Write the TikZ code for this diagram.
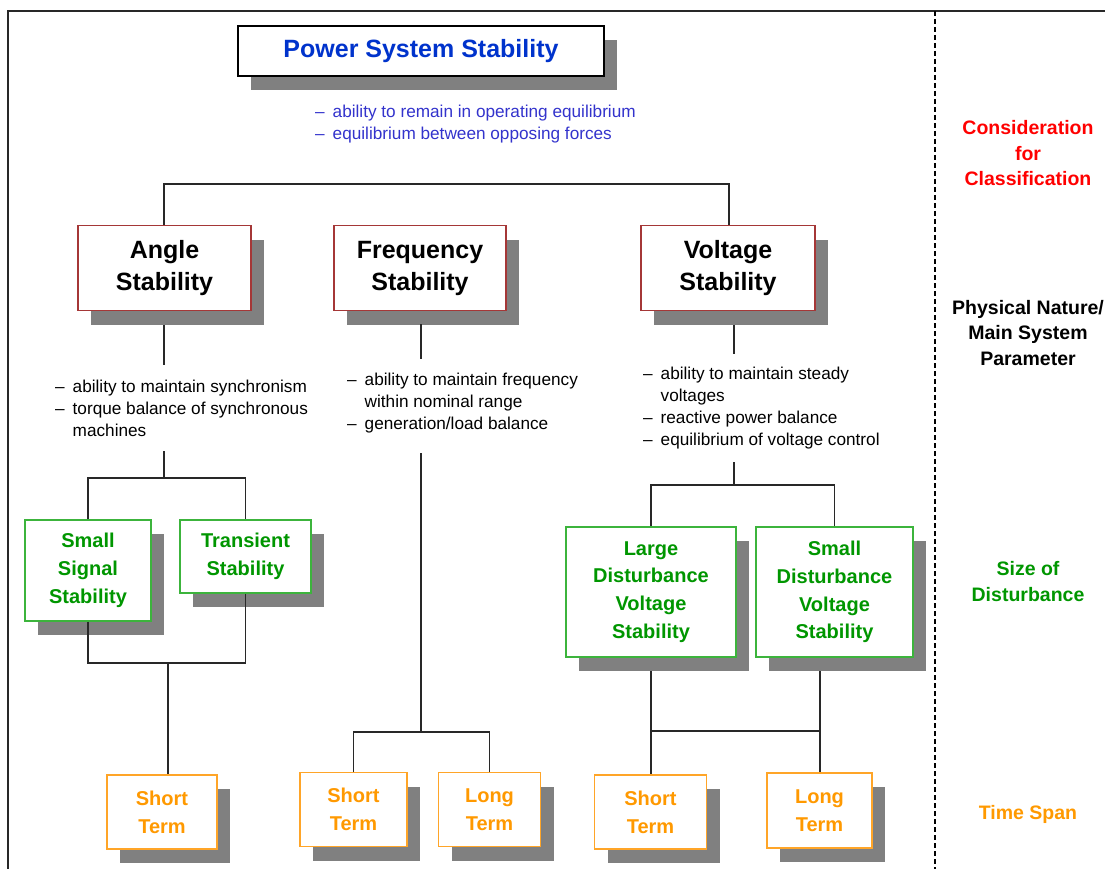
\documentclass[tikz,border=0pt]{standalone}
\usepackage{fontspec}
\setmainfont{Liberation Sans}
\usetikzlibrary{shadows}
\definecolor{ttblue}{RGB}{0,51,204}
\definecolor{bulblue}{RGB}{51,51,204}
\definecolor{boxred}{RGB}{165,55,55}
\definecolor{grntxt}{RGB}{0,150,0}
\definecolor{grnbox}{RGB}{60,180,60}
\definecolor{orgtxt}{RGB}{255,153,0}
\definecolor{orgbox}{RGB}{255,165,40}
\definecolor{shd}{RGB}{128,128,128}
\definecolor{lin}{RGB}{40,40,40}
\definecolor{redlbl}{RGB}{255,0,0}
\tikzset{
  shadowed/.style={drop shadow={shadow xshift=13pt,shadow yshift=-14pt,fill=shd,opacity=1}},
  basebox/.style={draw, fill=white, shadowed, align=center, inner sep=0pt, line width=1.2pt},
  titlebox/.style={basebox, draw=black, text=ttblue, font=\fontsize{25}{30}\selectfont\bfseries},
  redbox/.style={basebox, draw=boxred, text=black, font=\fontsize{25}{32}\selectfont\bfseries},
  greenbox/.style={basebox, draw=grnbox, text=grntxt, font=\fontsize{20}{27.7}\selectfont\bfseries},
  orangebox/.style={basebox, draw=orgbox, text=orgtxt, font=\fontsize{20}{28}\selectfont\bfseries},
  bullets/.style={anchor=west, align=left, inner sep=0pt, font=\fontsize{17.2}{22}\selectfont},
  sidelabel/.style={align=center, inner sep=0pt, font=\fontsize{19.5}{25.5}\selectfont\bfseries},
  conn/.style={draw=lin, line width=1.2pt},
}
\newcommand{\dsh}{\makebox[17.5pt][l]{--}}
\newcommand{\ind}{\hspace*{17.5pt}}
\begin{document}
\begin{tikzpicture}[x=1pt,y=-1pt]
\useasboundingbox (0,0) rectangle (1105,869);
% frame and dashed separator
\draw[line width=1.2pt, draw=lin] (8,869) -- (8,11) -- (1105,11);
\draw[line width=1.2pt, dash pattern=on 5pt off 3pt] (935,11) -- (935,869);

% title
\node[titlebox, minimum width=366pt, minimum height=50pt] (title) at (421,51) {Power System Stability};
\node[bullets, text=bulblue] (titletxt) at (315,124) {\dsh ability to remain in operating equilibrium\\\dsh equilibrium between opposing forces};

% level 1
\node[redbox, minimum width=173pt, minimum height=85pt] (ang) at (164.5,268) {Angle\\Stability};
\node[redbox, minimum width=172pt, minimum height=85pt] (freq) at (420,268) {Frequency\\Stability};
\node[redbox, minimum width=174pt, minimum height=85pt] (volt) at (728,268) {Voltage\\Stability};

\node[bullets] (angtxt) at (55,408) {\dsh ability to maintain synchronism\\\dsh torque balance of synchronous\\\ind machines};
\node[bullets] (freqtxt) at (347,403) {\dsh ability to maintain frequency\\\ind within nominal range\\\dsh generation/load balance};
\node[bullets] (volttxt) at (643,408) {\dsh ability to maintain steady\\\ind voltages\\\dsh reactive power balance\\\dsh equilibrium of voltage control};

% level 2
\node[greenbox, minimum width=126pt, minimum height=101pt] (ssig) at (88,570.5) {Small\\Signal\\Stability};
\node[greenbox, minimum width=131pt, minimum height=73pt] (trans) at (245.5,556.5) {Transient\\Stability};
\node[greenbox, minimum width=170pt, minimum height=130pt] (ldv) at (651,592) {Large\\Disturbance\\Voltage\\Stability};
\node[greenbox, minimum width=157pt, minimum height=130pt] (sdv) at (834.5,592) {Small\\Disturbance\\Voltage\\Stability};

% level 3
\node[orangebox, minimum width=110pt, minimum height=74pt] (ast) at (162,812) {Short\\Term};
\node[orangebox, minimum width=107pt, minimum height=74pt] (fst) at (353.5,809.5) {Short\\Term};
\node[orangebox, minimum width=102pt, minimum height=74pt] (flt) at (489.5,809.5) {Long\\Term};
\node[orangebox, minimum width=112pt, minimum height=74pt] (vst) at (650.5,812) {Short\\Term};
\node[orangebox, minimum width=105pt, minimum height=75pt] (vlt) at (819.5,810.5) {Long\\Term};

% side labels
\node[sidelabel, text=redlbl] (lc) at (1028,153.5) {Consideration\\for\\Classification};
\node[sidelabel, text=black] (lp) at (1028,333) {Physical Nature/\\Main System\\Parameter};
\node[sidelabel, text=grntxt] (ls) at (1028,581.5) {Size of\\Disturbance};
\node[sidelabel, text=orgtxt] (lt) at (1028,814) {Time Span};

% connectors
\coordinate (top) at (164,184);
\coordinate (topv) at (729,184);
\draw[conn] (ang.north -| top) -- (top) -- (topv) -- (volt.north -| topv);

\coordinate (a1) at (164,365);
\coordinate (a2) at (164,451);
\coordinate (aj) at (164,478);
\draw[conn] ([yshift=-14pt]ang.south -| a1) -- (a1);
\draw[conn] (a2) -- (aj);
\draw[conn] (ssig.north) |- (aj) -| (trans.north);
\coordinate (aj2) at (168,663);
\draw[conn] (ssig.south) |- (aj2) -| (trans.south);
\draw[conn] (aj2) -- (aj2 |- ast.north);

\coordinate (f0) at (421,324);
\coordinate (f1) at (421,359);
\coordinate (f2) at (421,453);
\coordinate (fj) at (421,732);
\draw[conn] (f0) -- (f1);
\draw[conn] (f2) -- (fj);
\draw[conn] (fst.north) |- (fj) -| (flt.north);

\coordinate (v0) at (734,325);
\coordinate (v1) at (734,354);
\coordinate (v2) at (734,462);
\coordinate (vj) at (734,485);
\draw[conn] (v0) -- (v1);
\draw[conn] (v2) -- (vj);
\draw[conn] (ldv.north) |- (vj) -| (sdv.north);
\coordinate (vb1) at (651,671);
\coordinate (vb2) at (820,671);
\coordinate (vh1) at (651,731);
\coordinate (vh2) at (820,731);
\draw[conn] (vb1) -- (vb1 |- vst.north);
\draw[conn] (vb2) -- (vb2 |- vlt.north);
\draw[conn] (vh1) -- (vh2);
\end{tikzpicture}
\end{document}
